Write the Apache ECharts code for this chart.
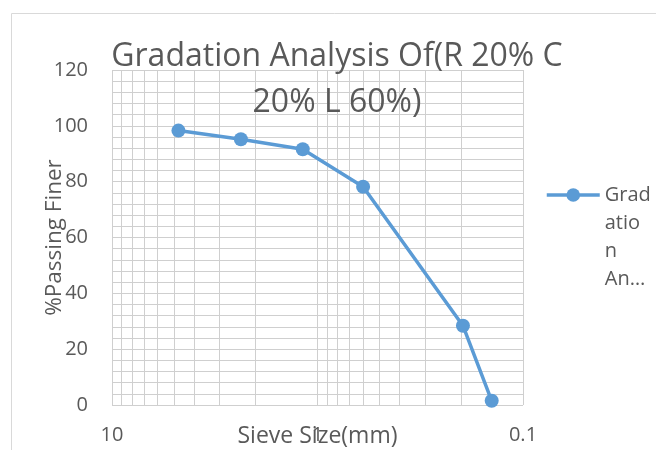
<!DOCTYPE html>
<html><head><meta charset="utf-8">
<script src="https://cdn.jsdelivr.net/npm/echarts@6/dist/echarts.min.js"></script>
<style>html,body{margin:0;padding:0;background:#fff}#c{width:656px;height:450px}</style>
</head><body><div id="c"></div>
<script>
var sieveSizes = [4.75, 2.36, 1.18, 0.6, 0.196, 0.142];
var passing = [98.3, 95.2, 91.6, 78.2, 28.4, 1.5];
var xMinorLines = [9, 8, 7, 6, 5, 4, 3, 2, 0.9, 0.8, 0.7, 0.6, 0.5, 0.4, 0.3, 0.2];
var seriesName = 'Gradation Analysis Of(R 20% C 20% L 60%)';
var titleText = 'Gradation Analysis Of(R 20% C\n20% L 60%)';
var legendText = '\n\n\nGrad\natio\nn\nAn\u2026';

var FONT = 'Open Sans';
var GRID = '#cfcfcf';
var chart = echarts.init(document.getElementById('c'));
chart.setOption({
  animation: false,
  textStyle: {fontFamily: FONT},
  graphic: [{type: 'rect', shape: {x: 11.5, y: 13.5, width: 700, height: 500}, style: {fill: 'none', stroke: '#d9d9d9', lineWidth: 1}, z: -1}],
  title: {text: titleText, left: 337, textAlign: 'center', top: 34, padding: 0,
    textStyle: {fontFamily: FONT, fontWeight: 'normal', fontSize: 32, color: '#595959', lineHeight: 46}},
  legend: {left: 545, top: 97, padding: 0, orient: 'vertical', itemWidth: 53, itemHeight: 17,
    lineStyle: {width: 3.5},
    formatter: function(){ return legendText; },
    textStyle: {fontFamily: FONT, fontSize: 20, color: '#595959', lineHeight: 28}},
  grid: {left: 112, right: 133, top: 70, bottom: 45, containLabel: false, outerBoundsMode: 'none'},
  xAxis: {type: 'log', logBase: 10, min: 0.1, max: 10, inverse: true,
    name: 'Sieve Size(mm)', nameLocation: 'middle', nameGap: 31, nameMoveOverlap: false,
    nameTextStyle: {fontFamily: FONT, fontSize: 23, color: '#595959', verticalAlign: 'middle'},
    axisLine: {show: false}, axisTick: {show: false},
    axisLabel: {fontFamily: FONT, fontSize: 20, color: '#595959', margin: 20,
      formatter: function(v){ return v >= 1 ? String(Math.round(v)) : String(v); }},
    splitLine: {show: true, lineStyle: {color: GRID, width: 1}}},
  yAxis: {type: 'value', min: 0, max: 120, interval: 20,
    name: '%Passing Finer', nameLocation: 'middle', nameGap: 57, nameRotate: 90, nameMoveOverlap: false,
    nameTextStyle: {fontFamily: FONT, fontSize: 22.5, color: '#595959', verticalAlign: 'middle'},
    axisLine: {show: false}, axisTick: {show: false},
    axisLabel: {fontFamily: FONT, fontSize: 20, color: '#595959', margin: 24},
    splitLine: {show: true, lineStyle: {color: GRID, width: 1}},
    minorTick: {show: false, splitNumber: 5},
    minorSplitLine: {show: true, lineStyle: {color: GRID, width: 1}}},
  series: [{
    name: seriesName, type: 'line',
    data: sieveSizes.map(function(s, i){ return [s, passing[i]]; }),
    symbol: 'circle', symbolSize: 14,
    lineStyle: {color: '#5b9bd5', width: 3.5},
    itemStyle: {color: '#5b9bd5'},
    markLine: {silent: true, symbol: 'none', label: {show: false},
      lineStyle: {color: GRID, width: 1, type: 'solid'},
      data: xMinorLines.map(function(v){ return {xAxis: v}; }), z: 0}
  }]
});
</script></body></html>
